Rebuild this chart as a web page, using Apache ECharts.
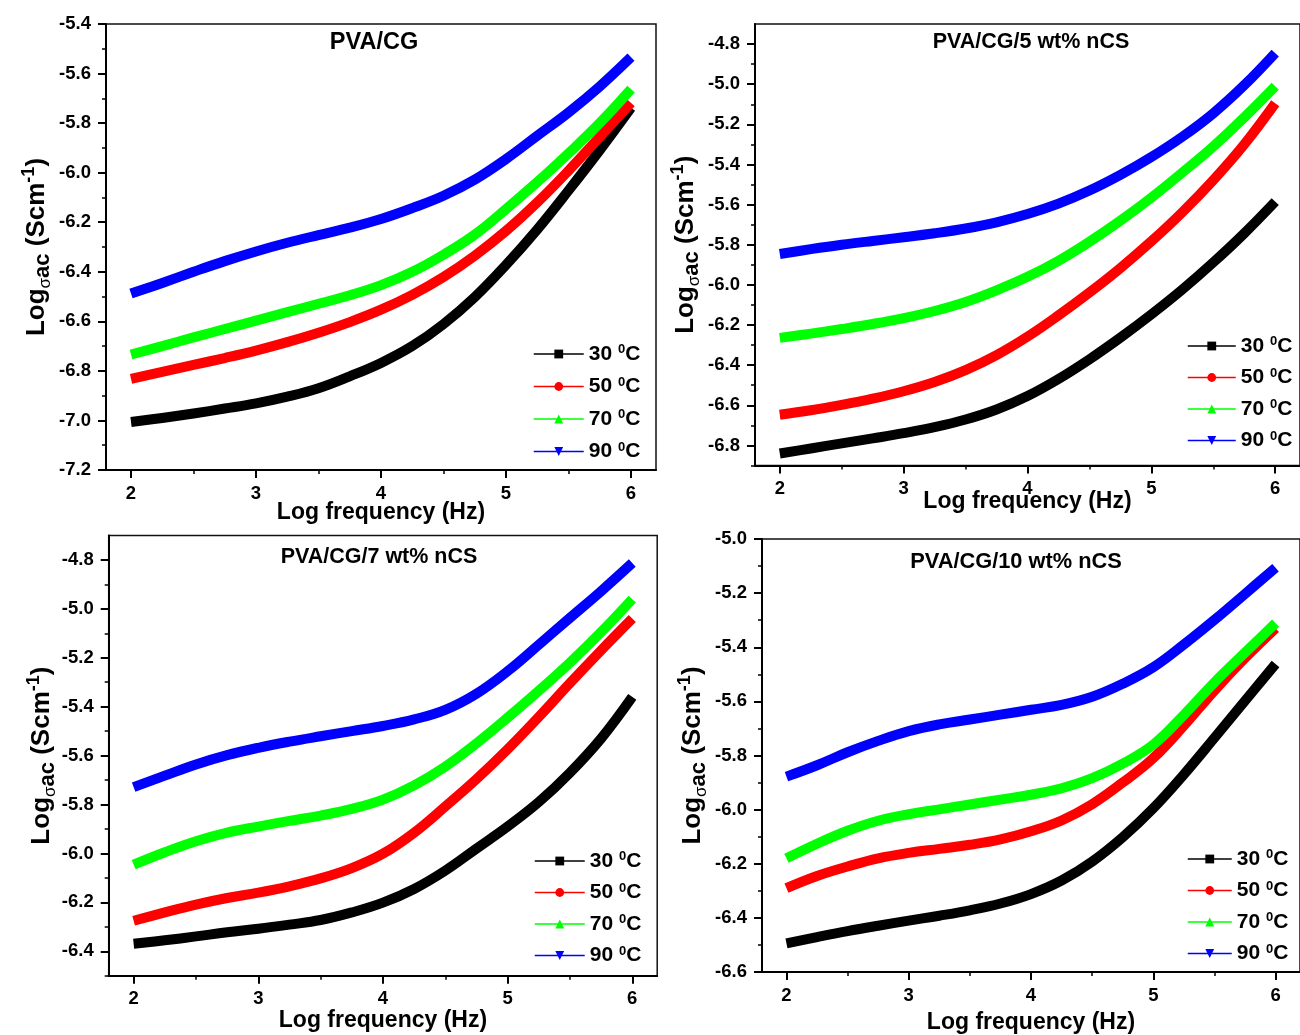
<!DOCTYPE html>
<html><head><meta charset="utf-8">
<script src="https://cdn.jsdelivr.net/npm/echarts@6/dist/echarts.min.js"></script>
<style>html,body{margin:0;padding:0;background:#fff}#chart{width:1300px;height:1035px}</style>
</head><body><div id="chart"></div>
<script>
// ---------- data ----------
const logFreq = [2, 2.25, 2.5, 2.75, 3, 3.25, 3.5, 3.75, 4, 4.25, 4.5, 4.75, 5, 5.25, 5.5, 5.75, 6];
const tempNames = ['30 °C', '50 °C', '70 °C', '90 °C'];
const panelTitles = ['PVA/CG', 'PVA/CG/5 wt% nCS', 'PVA/CG/7 wt% nCS', 'PVA/CG/10 wt% nCS'];

// PVA/CG
const cg_30 = [-7.006, -6.990, -6.972, -6.952, -6.931, -6.904, -6.870, -6.822, -6.768, -6.700, -6.611, -6.502, -6.372, -6.229, -6.072, -5.909, -5.738];
const cg_50 = [-6.832, -6.804, -6.776, -6.748, -6.718, -6.684, -6.646, -6.603, -6.553, -6.493, -6.421, -6.335, -6.235, -6.120, -5.992, -5.856, -5.718];
const cg_70 = [-6.734, -6.700, -6.665, -6.631, -6.597, -6.563, -6.529, -6.495, -6.454, -6.400, -6.331, -6.250, -6.147, -6.038, -5.922, -5.800, -5.663];
const cg_90 = [-6.488, -6.445, -6.400, -6.357, -6.318, -6.283, -6.252, -6.222, -6.187, -6.143, -6.093, -6.028, -5.945, -5.851, -5.757, -5.652, -5.534];
// PVA/CG/5 wt% nCS
const n5_30 = [-6.840, -6.815, -6.790, -6.765, -6.739, -6.709, -6.671, -6.621, -6.554, -6.469, -6.371, -6.263, -6.147, -6.023, -5.888, -5.743, -5.585];
const n5_50 = [-6.647, -6.625, -6.598, -6.567, -6.530, -6.484, -6.425, -6.350, -6.258, -6.152, -6.038, -5.916, -5.783, -5.638, -5.478, -5.300, -5.095];
const n5_70 = [-6.264, -6.243, -6.220, -6.195, -6.166, -6.130, -6.085, -6.027, -5.960, -5.880, -5.785, -5.680, -5.565, -5.440, -5.310, -5.165, -5.010];
const n5_90 = [-5.846, -5.822, -5.800, -5.781, -5.763, -5.743, -5.719, -5.688, -5.647, -5.595, -5.530, -5.452, -5.363, -5.262, -5.145, -5.005, -4.845];
// PVA/CG/7 wt% nCS
const n7_30 = [-6.369, -6.355, -6.339, -6.322, -6.308, -6.291, -6.272, -6.241, -6.201, -6.145, -6.070, -5.980, -5.890, -5.790, -5.670, -5.530, -5.360];
const n7_50 = [-6.275, -6.241, -6.209, -6.182, -6.160, -6.134, -6.102, -6.060, -6.001, -5.915, -5.808, -5.696, -5.574, -5.442, -5.304, -5.170, -5.040];
const n7_70 = [-6.046, -5.995, -5.950, -5.915, -5.890, -5.867, -5.845, -5.818, -5.780, -5.722, -5.645, -5.550, -5.445, -5.335, -5.220, -5.095, -4.960];
const n7_90 = [-5.729, -5.682, -5.636, -5.598, -5.568, -5.543, -5.521, -5.500, -5.479, -5.452, -5.413, -5.347, -5.255, -5.147, -5.037, -4.928, -4.813];
// PVA/CG/10 wt% nCS
const n10_30 = [-6.494, -6.471, -6.449, -6.429, -6.410, -6.392, -6.372, -6.347, -6.312, -6.262, -6.192, -6.102, -5.995, -5.870, -5.735, -5.598, -5.462];
const n10_50 = [-6.290, -6.245, -6.210, -6.180, -6.160, -6.145, -6.130, -6.110, -6.080, -6.040, -5.980, -5.900, -5.810, -5.690, -5.560, -5.440, -5.330];
const n10_70 = [-6.180, -6.126, -6.078, -6.041, -6.017, -5.999, -5.981, -5.963, -5.945, -5.921, -5.884, -5.830, -5.760, -5.650, -5.530, -5.420, -5.311];
const n10_90 = [-5.878, -5.836, -5.788, -5.746, -5.710, -5.685, -5.667, -5.649, -5.631, -5.613, -5.583, -5.535, -5.474, -5.390, -5.299, -5.203, -5.106];

// tick labels
const xTicks = [2, 3, 4, 5, 6];
const xMinorTicks = [2.5, 3.5, 4.5, 5.5];
const yTicks1 = [-7.2, -7.0, -6.8, -6.6, -6.4, -6.2, -6.0, -5.8, -5.6, -5.4];
const yMinor1 = [-7.1, -6.9, -6.7, -6.5, -6.3, -6.1, -5.9, -5.7, -5.5];
const yTicks2 = [-6.8, -6.6, -6.4, -6.2, -6.0, -5.8, -5.6, -5.4, -5.2, -5.0, -4.8];
const yMinor2 = [-6.9, -6.7, -6.5, -6.3, -6.1, -5.9, -5.7, -5.5, -5.3, -5.1, -4.9];
const yTicks3 = [-6.4, -6.2, -6.0, -5.8, -5.6, -5.4, -5.2, -5.0, -4.8];
const yMinor3 = [-6.5, -6.3, -6.1, -5.9, -5.7, -5.5, -5.3, -5.1, -4.9];
const yTicks4 = [-6.6, -6.4, -6.2, -6.0, -5.8, -5.6, -5.4, -5.2, -5.0];
const yMinor4 = [-6.5, -6.3, -6.1, -5.9, -5.7, -5.5, -5.3, -5.1];

// ---------- layout / style ----------
const FONT = '"Liberation Sans", Arial, sans-serif';
const colors = ['#000000', '#ff0000', '#00ff00', '#0000ff'];
const symbols = ['rect', 'circle', 'triangle', 'path://M0,0L10,0L5,9Z'];
const panels = [
  { series: [cg_30, cg_50, cg_70, cg_90], yTicks: yTicks1, yMinor: yMinor1, yMin: -7.2, yMax: -5.4,
    grid: { left: 106, top: 24, width: 550, height: 446 }, title: [374, 43, 23.5],
    legend: { left: 533, top: 343, w: 50, gap: 11 }, xGap: 31, yGap: 52 },
  { series: [n5_30, n5_50, n5_70, n5_90], yTicks: yTicks2, yMinor: yMinor2, yMin: -6.9, yMax: -4.7,
    grid: { left: 755, top: 24, width: 549, height: 441.5 }, title: [1031, 42, 21.5],
    legend: { left: 1187, top: 335, w: 48, gap: 10 }, xGap: 25, yGap: 52 },
  { series: [n7_30, n7_50, n7_70, n7_90], yTicks: yTicks3, yMinor: yMinor3, yMin: -6.5, yMax: -4.7,
    grid: { left: 108.7, top: 535.4, width: 548.5, height: 440.4 }, title: [379, 557, 21.5],
    legend: { left: 534, top: 850, w: 50, gap: 10 }, xGap: 33, yGap: 50 },
  { series: [n10_30, n10_50, n10_70, n10_90], yTicks: yTicks4, yMinor: yMinor4, yMin: -6.6, yMax: -5.0,
    grid: { left: 762, top: 539, width: 548, height: 435 }, title: [1016, 562, 21.8],
    legend: { left: 1187, top: 848, w: 44, gap: 10 }, xGap: 39, yGap: 52 }
];

const grids = [], xAxes = [], yAxes = [], series = [], legends = [], graphics = [];
const yNameRich = {
  b: { fontSize: 26, fontWeight: 'bold', fontFamily: FONT, color: '#000', lineHeight: 34 },
  g: { fontSize: 17, fontWeight: 'normal', fontFamily: FONT, color: '#000', lineHeight: 28, verticalAlign: 'bottom' },
  sub: { fontSize: 22, fontWeight: 'bold', fontFamily: FONT, color: '#000', lineHeight: 23, verticalAlign: 'bottom' },
  sup: { fontSize: 18, fontWeight: 'bold', fontFamily: FONT, color: '#000', lineHeight: 18, verticalAlign: 'top' }
};

panels.forEach((p, i) => {
  grids.push(Object.assign({ show: true, borderColor: '#111', borderWidth: 1.5, containLabel: false }, p.grid));
  xAxes.push({
    gridIndex: i, type: 'value', position: 'bottom', min: 1.8, max: 6.2,
    name: 'Log frequency (Hz)', nameLocation: 'middle', nameGap: p.xGap, nameMoveOverlap: false,
    nameTextStyle: { fontSize: 23, fontWeight: 'bold', fontFamily: FONT, color: '#000' },
    axisLine: { show: true, onZero: false, lineStyle: { color: '#000', width: 2 } },
    axisTick: { show: true, inside: false, length: 8, customValues: xTicks, lineStyle: { color: '#000', width: 2 } },
    axisLabel: { show: true, customValues: xTicks, margin: 14, fontSize: 18.5, fontWeight: 'bold', fontFamily: FONT, color: '#000',
      formatter: v => String(Math.round(v)) },
    splitLine: { show: false }
  });
  xAxes.push({
    gridIndex: i, type: 'value', position: 'bottom', min: 1.8, max: 6.2,
    axisLine: { show: false, onZero: false }, axisLabel: { show: false },
    axisTick: { show: true, inside: false, length: 4, customValues: xMinorTicks, lineStyle: { color: '#000', width: 1.5 } },
    splitLine: { show: false }
  });
  yAxes.push({
    gridIndex: i, type: 'value', position: 'left', min: p.yMin, max: p.yMax,
    name: '{b|Log}{g|σ}{sub|ac}{b| (Scm}{sup|-1}{b|)}', nameLocation: 'middle', nameRotate: 90, nameGap: p.yGap,
    nameMoveOverlap: false,
    nameTextStyle: { rich: yNameRich, color: '#000' },
    axisLine: { show: true, onZero: false, lineStyle: { color: '#000', width: 2 } },
    axisTick: { show: true, inside: false, length: 8, customValues: p.yTicks, lineStyle: { color: '#000', width: 2 } },
    axisLabel: { show: true, customValues: p.yTicks, margin: 15, fontSize: 18.5, fontWeight: 'bold', fontFamily: FONT, color: '#000',
      formatter: v => v.toFixed(1) },
    splitLine: { show: false }
  });
  yAxes.push({
    gridIndex: i, type: 'value', position: 'left', min: p.yMin, max: p.yMax,
    axisLine: { show: false, onZero: false }, axisLabel: { show: false },
    axisTick: { show: true, inside: false, length: 4, customValues: p.yMinor, lineStyle: { color: '#000', width: 1.5 } },
    splitLine: { show: false }
  });
  p.series.forEach((vals, k) => {
    series.push({
      type: 'line', name: tempNames[k], xAxisIndex: 2 * i, yAxisIndex: 2 * i,
      data: logFreq.map((x, j) => [x, vals[j]]),
      smooth: 0.4, showSymbol: false, symbol: symbols[k], symbolSize: 11,
      lineStyle: { color: colors[k], width: 10, join: 'round', cap: 'butt' }, itemStyle: { color: colors[k] },
      silent: true, animation: false
    });
  });
  legends.push({
    orient: 'vertical', left: p.legend.left, top: p.legend.top, padding: 0,
    itemWidth: p.legend.w, itemHeight: 11, itemGap: p.legend.gap,
    selectedMode: false, data: tempNames,
    lineStyle: { width: 1.5 },
    formatter: name => '{n|' + name.split(' ')[0] + ' }{s|0}{n|C}',
    textStyle: { color: '#000', rich: {
      n: { fontSize: 21, fontWeight: 'bold', fontFamily: FONT, color: '#000', lineHeight: 22 },
      s: { fontSize: 13, fontWeight: 'bold', fontFamily: FONT, color: '#000', lineHeight: 13, verticalAlign: 'top' }
    } }
  });
  graphics.push({
    type: 'text', x: p.title[0], y: p.title[1],
    style: { text: panelTitles[i], fill: '#000', font: 'bold ' + p.title[2] + 'px ' + FONT,
      align: 'center', verticalAlign: 'middle', textAlign: 'center', textVerticalAlign: 'middle' }
  });
});

const chart = echarts.init(document.getElementById('chart'), null, { renderer: 'canvas' });
chart.setOption({
  backgroundColor: '#fff', animation: false,
  grid: grids, xAxis: xAxes, yAxis: yAxes, series: series, legend: legends, graphic: graphics
});
</script></body></html>
